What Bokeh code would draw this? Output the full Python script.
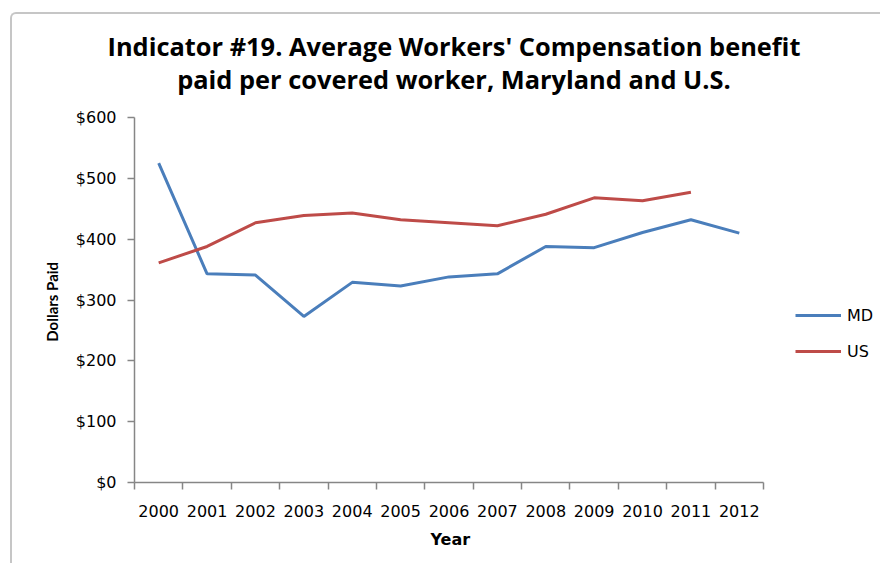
import numpy as np
from bokeh.plotting import figure
from bokeh.layouts import column
from bokeh.models import (Range1d, FixedTicker, Title, Legend, LegendItem, Div)
from bokeh.embed import file_html
from bokeh.resources import INLINE

years = ["2000", "2001", "2002", "2003", "2004", "2005", "2006",
         "2007", "2008", "2009", "2010", "2011", "2012"]
md_values = [525, 343, 341, 273, 329, 323, 338, 343, 388, 386, 411, 432, 410]
us_values = [361, 388, 427, 439, 443, 432, 427, 422, 441, 468, 463, 477]
y_ticks = [0, 100, 200, 300, 400, 500, 600]
y_tick_labels = ["$0", "$100", "$200", "$300", "$400", "$500", "$600"]

title_line1 = "Indicator #19. Average Workers' Compensation benefit"
title_line2 = "paid per covered worker, Maryland and U.S."

n = len(years)
centers = list(np.arange(n) + 0.5)
bounds = list(np.arange(n + 1).astype(float))

# chart-area box starts at (10, 12) with a 2px border
OX, OY = 12, 14
W = 880 - OX
DIV_H = 90
H = 563 - OY - DIV_H
top0 = OY + DIV_H
frame_left, axis_right = 134 - OX, 763 - OX
frame_top, frame_bottom = 117 - top0, 482 - top0
x_end = n * (W - frame_left) / (axis_right - frame_left)

title_div = Div(
    text=("<div style=\"position:relative; left:8px; width:%dpx; text-align:center; "
          "font-family:'Open Sans'; font-weight:bold; font-size:25.4px; "
          "line-height:33px; padding-top:16px; color:black; white-space:nowrap;\">"
          "%s<br>%s</div>") % (W, title_line1, title_line2),
    width=W, height=DIV_H, margin=(0, 0, 0, 0))

p = figure(width=W, height=H, output_backend="svg", toolbar_location=None,
           x_range=Range1d(0, x_end), y_range=Range1d(0, 600),
           min_border_left=frame_left, min_border_right=0,
           min_border_top=frame_top, min_border_bottom=H - frame_bottom)
p.grid.visible = False
p.outline_line_color = None
p.background_fill_color = "white"
p.border_fill_color = "white"

md_x = centers[:len(md_values)]
us_x = centers[:len(us_values)]
r_md = p.line(md_x, md_values, line_color="#4A7EBB", line_width=3)
r_us = p.line(us_x, us_values, line_color="#BE4B48", line_width=3)

axis_color = "#868686"
tick_font = "DejaVu Sans"

xa = p.xaxis[0]
xa.bounds = (0, n)
xa.ticker = FixedTicker(ticks=centers, minor_ticks=bounds)
xa.major_label_overrides = {c: y for c, y in zip(centers, years)}
xa.major_tick_line_color = None
xa.minor_tick_line_color = axis_color
xa.minor_tick_out = 7
xa.minor_tick_in = 0
xa.axis_line_color = axis_color
xa.axis_line_width = 1.5
xa.minor_tick_line_width = 1.5
xa.major_label_text_font = tick_font
xa.major_label_text_font_size = "16px"
xa.major_label_text_color = "black"
xa.major_label_standoff = 15

ya = p.yaxis[0]
ya.ticker = FixedTicker(ticks=y_ticks, minor_ticks=[])
ya.major_label_overrides = {t: l for t, l in zip(y_ticks, y_tick_labels)}
ya.major_tick_line_color = axis_color
ya.major_tick_line_width = 1.5
ya.major_tick_out = 7
ya.major_tick_in = 0
ya.minor_tick_line_color = None
ya.axis_line_color = axis_color
ya.axis_line_width = 1.5
ya.major_label_text_font = tick_font
ya.major_label_text_font_size = "16px"
ya.major_label_text_color = "black"
ya.major_label_standoff = 11
ya.axis_label = "Dollars  Paid"
ya.axis_label_text_font = "Lato"
ya.axis_label_text_font_style = "bold"
ya.axis_label_text_font_size = "15px"
ya.axis_label_text_color = "black"
ya.axis_label_standoff = 12

p.add_layout(Title(text="Year", align="left", offset=296, text_font="DejaVu Sans",
                   text_font_size="16px", text_font_style="bold", text_color="black",
                   standoff=17), "below")

legend = Legend(items=[LegendItem(label="MD", renderers=[r_md]),
                       LegendItem(label="US", renderers=[r_us])],
                location=(661, 121), padding=0, margin=0, spacing=16,
                glyph_width=46, glyph_height=20, label_height=20,
                label_standoff=6, border_line_color=None,
                background_fill_alpha=0, label_text_color="black",
                label_text_font="DejaVu Sans", label_text_font_size="16px")
p.add_layout(legend, "center")

layout = column(title_div, p, spacing=0,
                styles={"margin-left": "10px", "margin-top": "12px",
                        "border-left": "2px solid #c6c6c6", "border-top": "2px solid #c6c6c6",
                        "border-top-left-radius": "6px", "background": "white"})

open("out.html", "w").write(file_html(layout, INLINE))
